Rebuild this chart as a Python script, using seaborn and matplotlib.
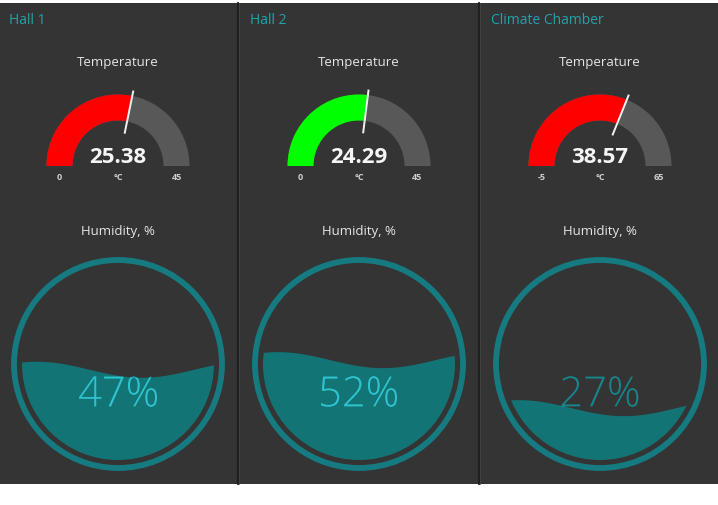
import numpy as np
import matplotlib
matplotlib.use("Agg")
import matplotlib.pyplot as plt
from matplotlib.patches import Wedge, Circle, Polygon, Rectangle, PathPatch
from matplotlib.textpath import TextPath
from matplotlib.font_manager import FontProperties
from matplotlib.transforms import Affine2D
import seaborn as sns

# -------------------------------
# Data
# -------------------------------
panel_names = ["Hall 1", "Hall 2", "Climate Chamber"]
temperatures = [25.38, 24.29, 38.57]
temp_min = [0, 0, -5]
temp_max = [45, 45, 65]
temp_unit = "°C"
humidity = [47, 52, 27]

# styles
gauge_colors = ["#ff0000", "#00ff00", "#ff0000"]
BG = "#343434"
TEAL_TITLE = "#22a2ad"
RING = "#157b80"
FILL = "#137476"
TXT_IN = "#2fc3cf"
TXT_OUT = "#17868c"

sns.set_theme(style="dark", rc={"axes.facecolor": BG, "figure.facecolor": "white"})
plt.rcParams["font.family"] = ["Open Sans", "DejaVu Sans"]

W, H = 718, 506
fig = plt.figure(figsize=(W / 100, H / 100), dpi=100)
ax = fig.add_axes([0, 0, 1, 1])
ax.set_xlim(0, W)
ax.set_ylim(H, 0)
ax.axis("off")

# dark dashboard area
ax.add_patch(Rectangle((0, 4), W, 481, facecolor=BG, edgecolor="none", zorder=0))

pct_font = FontProperties(family="Open Sans", weight="light")

panel_w = 241
for i, name in enumerate(panel_names):
    x0 = i * panel_w
    cx = x0 + 118

    # divider
    if i > 0:
        ax.plot([x0 - 3.5, x0 - 3.5], [4, 485], color="#1f1f1f", lw=1.6, zorder=1)
        ax.plot([x0 - 2, x0 - 2], [4, 485], color="#454545", lw=0.6, zorder=1)

    ax.text(x0 + 9, 20, name, color=TEAL_TITLE, fontsize=10, ha="left", va="center")

    # -------------------------------
    # Temperature gauge
    # -------------------------------
    ax.text(cx, 62, "Temperature", color="#e6e6e6", fontsize=9.5, ha="center", va="center")
    gy = 167
    r_out, r_w = 71.5, 26
    frac = (temperatures[i] - temp_min[i]) / (temp_max[i] - temp_min[i])
    ax.add_patch(Wedge((cx, gy), r_out, -180, 0, width=r_w, facecolor="#585858",
                       edgecolor="none", zorder=2))
    ax.add_patch(Wedge((cx, gy), r_out, -180, -180 + frac * 180, width=r_w,
                       facecolor=gauge_colors[i], edgecolor="none", zorder=3))
    phi = np.deg2rad(180 - frac * 180)
    rr = np.array([33, 77])
    ax.plot(cx + rr * np.cos(phi), gy - rr * np.sin(phi), color="#f2f2f2", lw=1.4,
            solid_capstyle="butt", zorder=4)
    ax.text(cx, 157.5, f"{temperatures[i]:.2f}", color="#f5f5f5", fontsize=16,
            fontweight="bold", ha="center", va="center", zorder=5)
    r_mid = r_out - r_w / 2
    for xx, s in [(cx - r_mid, f"{temp_min[i]}"), (cx, temp_unit), (cx + r_mid, f"{temp_max[i]}")]:
        ax.text(xx, 177.5, s, color="#d0d0d0", fontsize=6.5,
                fontweight="bold", ha="center", va="center")

    # -------------------------------
    # Humidity liquid gauge
    # -------------------------------
    ax.text(cx, 232, "Humidity, %", color="#e6e6e6", fontsize=9.5, ha="center", va="center")
    cy = 365
    ax.add_patch(Circle((cx, cy), 104, facecolor="none", edgecolor=RING, lw=4.2, zorder=2))
    R = 96
    level = cy + R - humidity[i] / 100 * 2 * R
    xs = np.linspace(cx - R - 2, cx + R + 2, 200)
    wave = level + 8 * np.cos(2 * np.pi * (xs - (cx + 24)) / 210)
    verts = np.column_stack([np.r_[xs, xs[-1], xs[0]], np.r_[wave, cy + R + 5, cy + R + 5]])
    clip_circle = Circle((cx, cy), R, transform=ax.transData)
    liquid = Polygon(verts, closed=True, facecolor=FILL, edgecolor="none", zorder=3)
    ax.add_patch(liquid)
    liquid.set_clip_path(clip_circle)

    # percentage text as a path so it can be clipped by the liquid
    tp = TextPath((0, 0), f"{humidity[i]}%", size=30 * 100 / 72, prop=pct_font)
    bb = tp.get_extents()
    tr = (Affine2D().translate(-(bb.x0 + bb.x1) / 2, -(bb.y0 + bb.y1) / 2)
          .scale(1, -1).translate(cx, 392.5))
    txt_path = tr.transform_path(tp)
    ax.add_patch(PathPatch(txt_path, facecolor=TXT_OUT, edgecolor="none", lw=0, zorder=4))
    t_in = PathPatch(txt_path, facecolor=TXT_IN, edgecolor="none", lw=0, zorder=5)
    ax.add_patch(t_in)
    t_in.set_clip_path(Polygon(verts, closed=True, transform=ax.transData))

fig.savefig("out.png", dpi=100, facecolor="white")
